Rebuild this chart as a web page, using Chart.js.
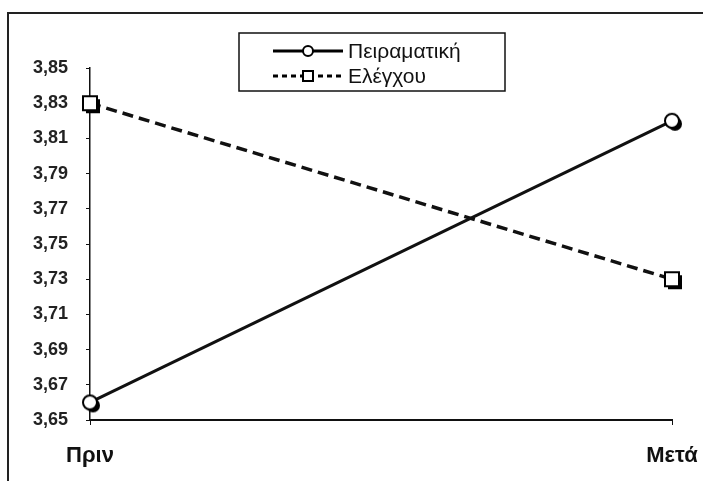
<!DOCTYPE html>
<html><head><meta charset="utf-8">
<script src="https://cdn.jsdelivr.net/npm/chart.js@4.4.0/dist/chart.umd.min.js"></script>
<style>html,body{margin:0;padding:0;background:#fff}#wrap{width:703px;height:481px;position:relative}</style>
</head><body><div id="wrap"><canvas id="c" width="703" height="481"></canvas></div>
<script>
const categories = ['Πριν', 'Μετά'];
const seriesNames = ['Πειραματική', 'Ελέγχου'];
const experimental = [3.66, 3.82];
const control = [3.83, 3.73];
const yTickValues = [3.65, 3.67, 3.69, 3.71, 3.73, 3.75, 3.77, 3.79, 3.81, 3.83, 3.85];

function marker(kind, shadow, size) {
  const c = document.createElement('canvas');
  const S = 28; c.width = S; c.height = S;
  const g = c.getContext('2d');
  const m = S / 2, r = size / 2;
  if (shadow) {
    g.fillStyle = '#000';
    if (kind === 'circle') { g.beginPath(); g.arc(m + 3, m + 3, r, 0, Math.PI * 2); g.fill(); }
    else g.fillRect(m - r + 3, m - r + 3, size, size);
  }
  g.fillStyle = '#fff'; g.strokeStyle = '#000'; g.lineWidth = 2;
  if (kind === 'circle') { g.beginPath(); g.arc(m, m, r, 0, Math.PI * 2); g.fill(); g.stroke(); }
  else { g.fillRect(m - r, m - r, size, size); g.strokeRect(m - r, m - r, size, size); }
  return c;
}
const circleImg = marker('circle', true, 14);
const squareImg = marker('square', true, 14);
const circleLeg = marker('circle', false, 10);
const squareLeg = marker('square', false, 10);

const FONT_AX = '"Liberation Sans", Arial, sans-serif';

const framePlugin = {
  id: 'frame',
  beforeDraw(chart) {
    const ctx = chart.ctx;
    ctx.save();
    ctx.fillStyle = '#fff'; ctx.fillRect(0, 0, chart.width, chart.height);
    ctx.strokeStyle = '#222'; ctx.lineWidth = 2;
    ctx.strokeRect(8, 13, chart.width + 10, chart.height + 10);
    ctx.restore();
  },
  afterDraw(chart) {
    const ctx = chart.ctx;
    ctx.save();
    const bx = 239, by = 33, bw = 266, bh = 58;
    ctx.fillStyle = '#fff'; ctx.fillRect(bx, by, bw, bh);
    ctx.strokeStyle = '#111'; ctx.lineWidth = 1.5; ctx.strokeRect(bx, by, bw, bh);
    const rows = [
      { y: 51, dash: [], img: circleLeg },
      { y: 76, dash: [5, 4], img: squareLeg }
    ];
    rows.forEach((r, i) => {
      ctx.strokeStyle = '#000'; ctx.lineWidth = 3; ctx.setLineDash(r.dash);
      ctx.beginPath(); ctx.moveTo(273, r.y); ctx.lineTo(343, r.y); ctx.stroke();
      ctx.setLineDash([]);
      ctx.drawImage(r.img, 308 - 14, r.y - 14);
      ctx.fillStyle = '#111';
      ctx.font = '21px ' + FONT_AX;
      ctx.textBaseline = 'middle'; ctx.textAlign = 'left';
      ctx.fillText(seriesNames[i], 348, r.y + 1);
    });
    ctx.restore();
  }
};

new Chart(document.getElementById('c'), {
  type: 'line',
  data: {
    labels: categories,
    datasets: [
      { label: seriesNames[0], data: experimental, borderColor: '#111', borderWidth: 3,
        pointStyle: circleImg, pointRadius: 8, fill: false, tension: 0 },
      { label: seriesNames[1], data: control, borderColor: '#111', borderWidth: 3.5,
        borderDash: [11, 6], pointStyle: squareImg, pointRadius: 8, fill: false, tension: 0 }
    ]
  },
  options: {
    responsive: false, animation: false,
    layout: { padding: { top: 68, right: 31, left: 0, bottom: 0 } },
    plugins: { legend: { display: false }, tooltip: { enabled: false } },
    scales: {
      x: {
        offset: false,
        grid: { drawOnChartArea: false, tickLength: 5, color: '#111', lineWidth: 1 },
        border: { color: '#111', width: 2 },
        ticks: { color: '#111', font: { family: FONT_AX, size: 22, weight: 'bold' }, padding: 18, maxRotation: 0 },
        afterFit(s) { s.height = 61; s.paddingLeft = 0; s.paddingRight = 0; }
      },
      y: {
        min: 3.65, max: 3.85,
        afterBuildTicks(s) { s.ticks = yTickValues.map(v => ({ value: v })); },
        grid: { drawOnChartArea: false, tickLength: 4, color: '#111', lineWidth: 1 },
        border: { color: '#111', width: 1.5 },
        ticks: { color: '#222', font: { family: FONT_AX, size: 18, weight: 'bold' }, padding: 18,
          callback: v => Number(v).toFixed(2).replace('.', ',') },
        afterFit(s) { s.width = 90; s.paddingTop = 0; s.paddingBottom = 0; }
      }
    }
  },
  plugins: [framePlugin]
});
</script>
</body></html>
